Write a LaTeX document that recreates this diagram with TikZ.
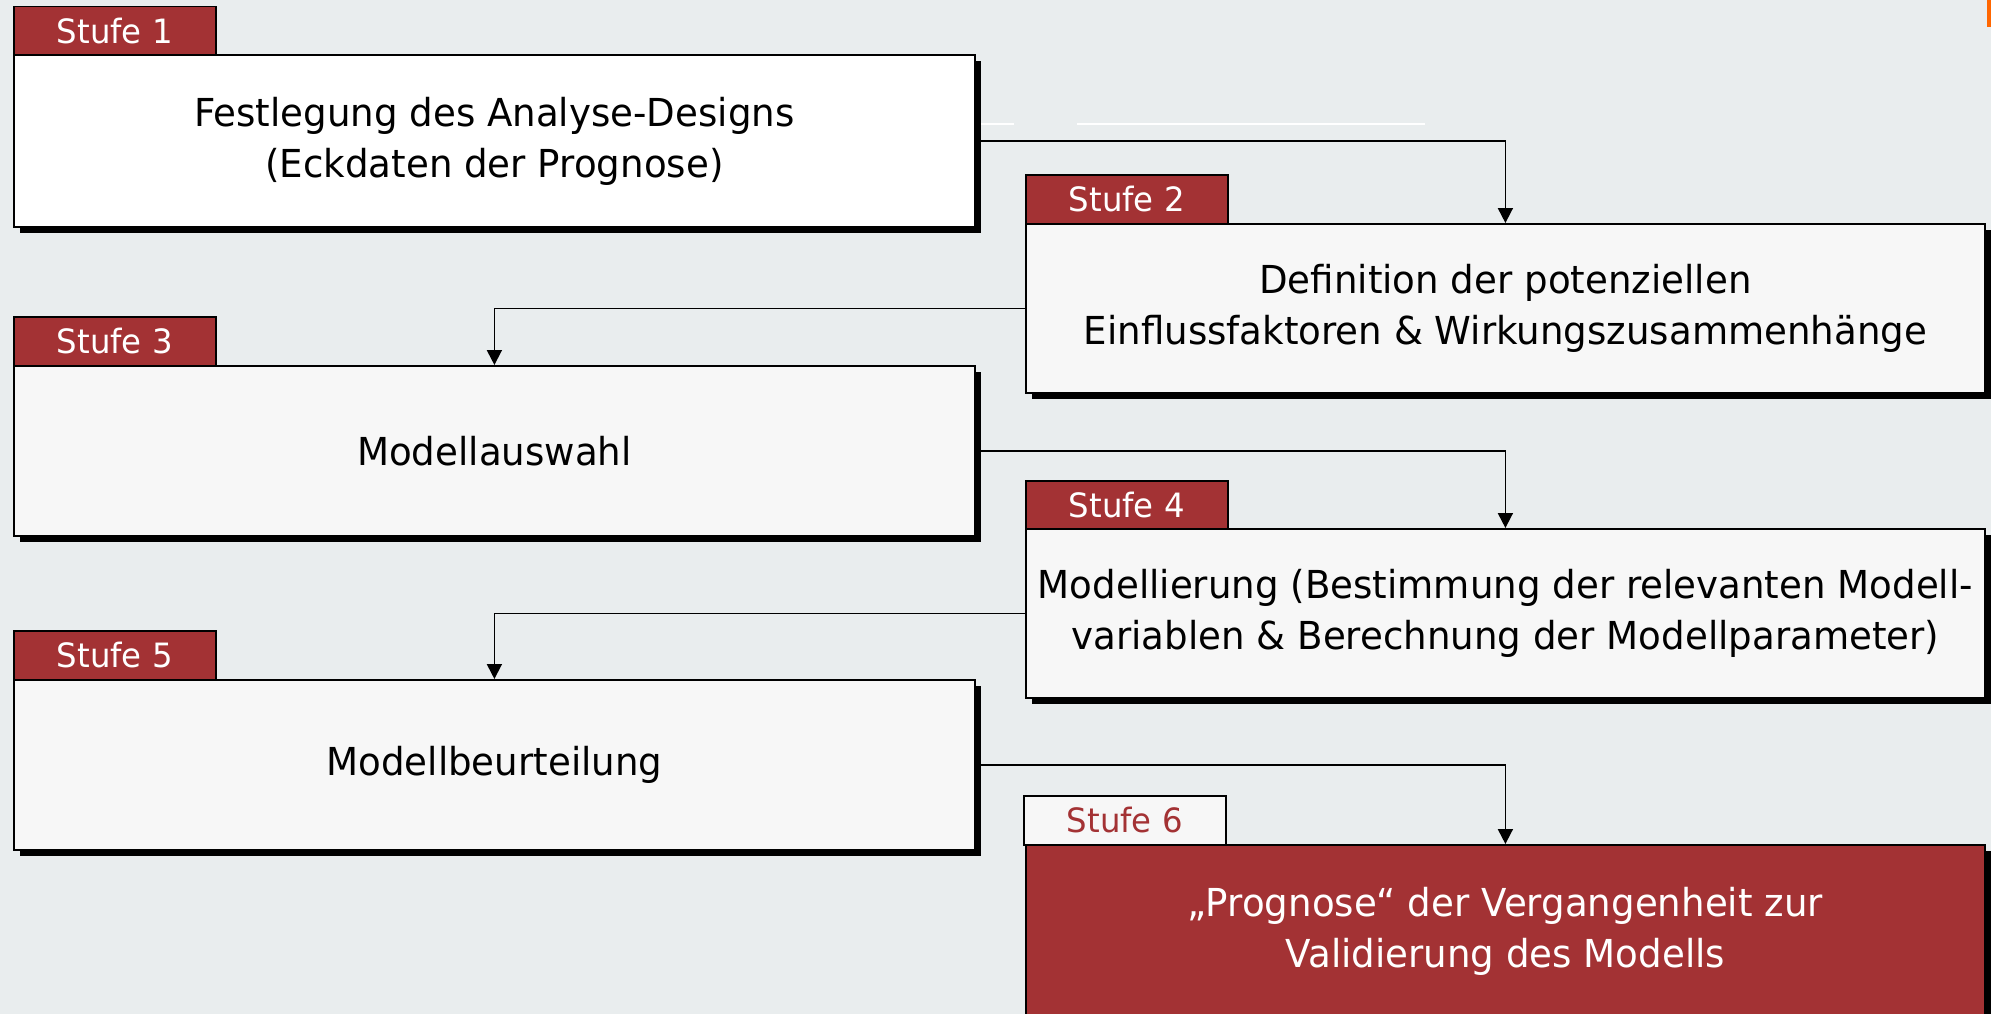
\documentclass[tikz,border=0pt]{standalone}
\usepackage{fontspec}
\setmainfont{DejaVu Sans}[FakeStretch=0.965]
\usetikzlibrary{arrows.meta,shadows}
\definecolor{bg}{HTML}{E9EDEE}
\definecolor{stred}{HTML}{A33234}
\definecolor{offwhite}{HTML}{F7F7F7}
\definecolor{orangebar}{HTML}{FF6600}
\tikzset{
  stagebox/.style={draw=black, line width=1.8pt, anchor=north west, inner sep=0pt,
    align=center, text=black, font=\fontsize{38.5}{51}\selectfont,
    drop shadow={shadow xshift=6pt, shadow yshift=-6pt, fill=black, opacity=1}},
  lbox/.style={stagebox, minimum width=961pt},
  rbox/.style={stagebox, minimum width=959pt},
  tab/.style={draw=black, line width=1.5pt, anchor=north west, inner sep=0pt,
    fill=stred, text=white, minimum width=202pt, minimum height=48pt,
    font=\fontsize{33.5}{40}\selectfont},
  arr/.style={draw=black, line width=1.8pt, -{Triangle[length=15pt,width=15pt]}},
}
\begin{document}
\begin{tikzpicture}[x=1pt, y={(0pt,-1pt)}]
\useasboundingbox (0,0) rectangle (1991,1014);
\fill[bg] (0,0) rectangle (1991,1014);
\fill[orangebar] (1987,0) rectangle (1991,27);
% faint white artifact lines
\draw[white, line width=2pt] (976,124) -- (1014,124);
\draw[white, line width=2pt] (1077,124) -- (1425,124);

% boxes
\node[lbox, fill=white, minimum height=172pt] (b1) at (13,54)
  {Festlegung des Analyse-Designs\\(Eckdaten der Prognose)};
\node[rbox, fill=offwhite, minimum height=169pt] (b2) at (1025,223)
  {Definition der potenziellen\\Einflussfaktoren \& Wirkungszusammenhänge};
\node[lbox, fill=offwhite, minimum height=170pt] (b3) at (13,365)
  {Modellauswahl};
\node[rbox, fill=offwhite, minimum height=169pt] (b4) at (1025,528)
  {Modellierung (Bestimmung der relevanten Modell-\\variablen \& Berechnung der Modellparameter)};
\node[lbox, fill=offwhite, minimum height=170pt] (b5) at (13,679)
  {Modellbeurteilung};
\node[rbox, fill=stred, text=white, minimum height=172pt] (b6) at (1025,844)
  {„Prognose“ der Vergangenheit zur\\Validierung des Modells};

% tabs
\node[tab, minimum height=48pt] (t1) at (13,6) {Stufe 1};
\node[tab, minimum height=49pt] (t2) at (1025,174) {Stufe 2};
\node[tab, minimum height=49pt] (t3) at (13,316) {Stufe 3};
\node[tab, minimum height=48pt] (t4) at (1025,480) {Stufe 4};
\node[tab, minimum height=49pt] (t5) at (13,630) {Stufe 5};
\node[tab, minimum height=49pt, fill=offwhite, text=stred] (t6) at (1023,795) {Stufe 6};

% connectors
\draw[arr] (b1.east) -| (b2.north);
\draw[arr] (b2.west) -| (b3.north);
\draw[arr] (b3.east) -| (b4.north);
\draw[arr] (b4.west) -| (b5.north);
\draw[arr] (b5.east) -| (b6.north);
\end{tikzpicture}
\end{document}
